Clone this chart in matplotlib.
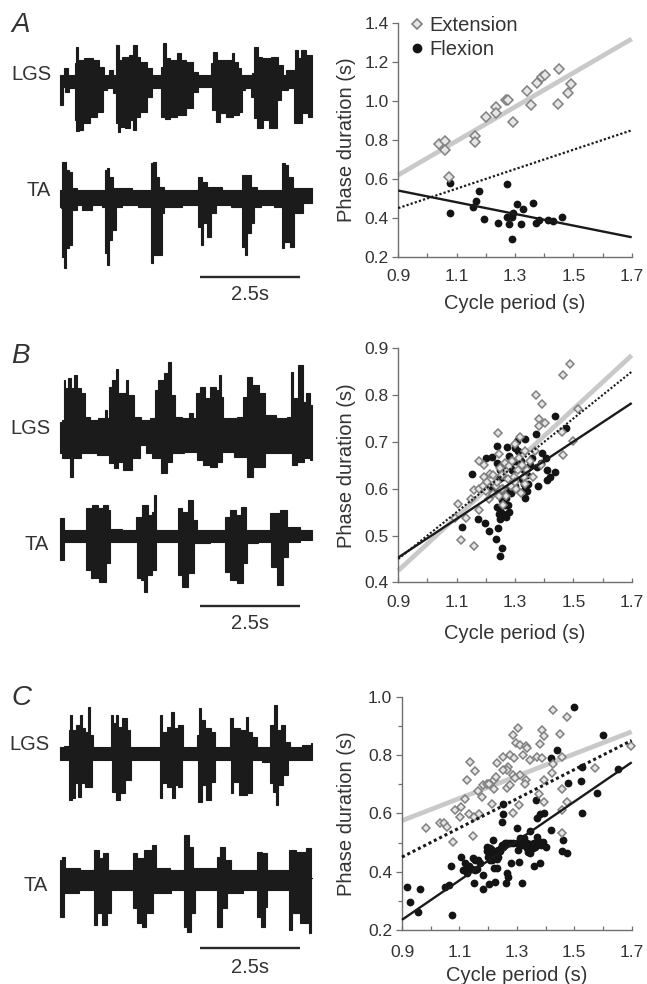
import matplotlib
matplotlib.use("Agg")
import matplotlib.pyplot as plt
from matplotlib.lines import Line2D
from matplotlib.ticker import FixedLocator

plt.rcParams['font.family'] = ['Liberation Sans', 'DejaVu Sans']

TEXT = '#333333'
AXIS = '#707070'

# ---------- EMG envelopes (sample index, level) ----------
A_LGS_top = [(180,225),(190,225),(192,205),(202,205),(205,225),(222,225),(226,190),(228,140),(234,140),(236,180),(270,175),(290,180),(305,200),(318,225),(326,225),(330,210),(336,210),(340,230),(346,225),(348,135),(356,135),(358,180),(372,170),(380,170),(395,165),(403,135),(410,135),(412,170),(430,185),(450,205),(465,225),(480,225),(488,200),(490,130),(497,130),(499,175),(520,180),(540,160),(545,180),(570,185),(590,215),(600,225),(630,225),(638,190),(642,155),(650,155),(652,180),(690,180),(700,160),(706,185),(720,205),(728,225),(755,225),(760,220),(765,140),(772,140),(775,170),(800,175),(825,170),(845,195),(855,225),(862,210),(878,210),(884,225),(885,150),(892,150),(895,175),(910,150),(916,150),(920,165),(935,165),(935,240)]
A_LGS_bot = [(180,260),(182,315),(188,315),(190,260),(200,275),(215,265),(222,265),(226,360),(232,392),(240,390),(260,370),(280,350),(300,335),(316,270),(325,265),(335,265),(345,280),(350,370),(358,395),(365,380),(385,385),(395,360),(405,390),(410,350),(430,335),(450,290),(465,265),(480,265),(488,350),(500,358),(520,350),(545,345),(570,325),(590,275),(600,260),(630,260),(640,330),(655,365),(665,340),(690,350),(710,345),(725,335),(728,270),(745,265),(760,290),(765,355),(780,385),(800,360),(815,385),(830,385),(835,300),(850,270),(880,265),(883,370),(900,370),(915,340),(935,350),(935,240)]
A_TA_top = [(180,570),(184,570),(187,485),(195,485),(200,510),(215,515),(220,565),(240,570),(300,570),(312,570),(316,510),(325,505),(330,530),(350,565),(440,570),(450,570),(455,490),(465,485),(470,530),(485,560),(500,570),(590,570),(598,530),(605,530),(610,545),(635,560),(700,570),(725,570),(728,525),(745,525),(760,560),(780,570),(840,570),(850,490),(858,495),(870,530),(890,565),(935,565),(935,593)]
A_TA_bot = [(180,620),(185,625),(188,770),(195,805),(202,745),(215,735),(220,630),(245,615),(250,630),(300,615),(315,620),(318,760),(322,795),(330,720),(345,690),(350,620),(380,615),(450,620),(455,790),(465,765),(483,765),(487,640),(500,620),(590,615),(600,680),(605,735),(612,670),(630,710),(635,640),(660,615),(725,620),(730,740),(738,765),(745,700),(760,670),(765,620),(800,615),(845,620),(847,745),(860,725),(880,740),(885,640),(935,610),(935,593)]

B_LGS_top = [(180,275),(190,270),(192,150),(200,175),(210,145),(218,175),(228,135),(235,175),(250,190),(262,260),(280,270),(310,265),(318,240),(325,265),(330,170),(345,150),(352,118),(358,190),(375,190),(380,150),(388,195),(400,195),(405,260),(440,270),(462,265),(466,180),(485,150),(500,130),(510,95),(518,195),(530,260),(560,265),(572,250),(585,265),(592,190),(610,170),(620,205),(640,170),(655,180),(660,135),(668,200),(672,265),(700,265),(720,260),(738,200),(742,140),(770,165),(785,190),(805,255),(850,265),(870,260),(875,125),(882,205),(905,105),(913,215),(925,190),(935,225),(935,310)]
B_LGS_bot = [(180,370),(190,385),(205,385),(215,440),(225,385),(260,370),(320,375),(335,400),(350,415),(360,395),(380,420),(410,385),(430,345),(445,370),(470,385),(495,430),(505,395),(525,370),(580,365),(600,390),(620,405),(640,410),(660,395),(675,365),(730,380),(755,440),(765,410),(785,410),(805,370),(870,370),(880,405),(900,395),(925,385),(935,390),(935,310)]
B_TA_top = [(180,600),(183,565),(190,565),(192,600),(255,600),(262,535),(290,525),(300,535),(320,525),(328,540),(335,598),(400,600),(415,560),(440,525),(450,555),(462,545),(465,495),(470,600),(530,600),(540,535),(555,545),(575,510),(585,570),(595,600),(670,600),(680,560),(700,540),(715,555),(730,530),(745,600),(800,600),(820,550),(860,540),(865,590),(935,600),(935,615)]
B_TA_bot = [(180,630),(183,690),(190,690),(192,635),(255,635),(262,720),(285,745),(310,755),(325,700),(335,635),(405,635),(415,745),(430,750),(437,785),(445,735),(465,720),(470,635),(530,635),(540,735),(555,770),(575,730),(590,640),(670,635),(680,725),(700,750),(720,760),(740,700),(745,640),(805,635),(820,710),(840,765),(860,680),(868,635),(935,630),(935,615)]

C_LGS_top = [(180,260),(205,258),(210,210),(213,165),(217,210),(238,195),(243,165),(248,205),(262,215),(267,140),(272,225),(285,260),(330,260),(335,165),(345,190),(352,165),(358,200),(375,175),(385,210),(398,260),(475,260),(485,165),(490,215),(510,200),(518,155),(525,205),(545,195),(555,260),(590,260),(595,225),(602,145),(607,180),(625,205),(640,215),(650,260),(688,260),(695,175),(705,205),(735,210),(742,170),(748,215),(765,230),(775,260),(805,260),(815,195),(828,135),(835,210),(850,195),(860,245),(880,260),(930,255),(935,248),(935,280)]
C_LGS_bot = [(180,300),(205,300),(212,420),(218,380),(222,415),(230,370),(240,410),(245,370),(265,380),(285,300),(330,300),(340,395),(355,420),(365,400),(385,360),(400,300),(475,300),(483,415),(490,370),(510,380),(520,415),(530,375),(540,380),(555,300),(590,300),(600,425),(610,375),(625,420),(640,365),(650,300),(690,300),(695,400),(705,365),(730,405),(750,400),(765,300),(805,305),(815,370),(825,395),(830,435),(838,375),(860,345),(868,300),(935,300),(935,280)]
C_TA_top = [(180,600),(190,590),(200,625),(280,630),(287,570),(295,570),(300,595),(320,580),(330,630),(395,630),(402,580),(420,595),(445,570),(465,555),(473,625),(550,630),(557,525),(575,560),(585,625),(650,625),(655,590),(668,560),(685,600),(700,630),(770,630),(775,575),(800,580),(805,630),(865,630),(872,570),(905,575),(930,565),(935,655)]
C_TA_bot = [(180,690),(183,770),(190,770),(195,700),(280,690),(285,795),(300,760),(315,795),(330,760),(335,690),(395,690),(405,745),(420,790),(430,800),(445,760),(475,700),(550,690),(555,800),(565,815),(580,760),(590,690),(650,690),(655,800),(675,745),(690,700),(770,690),(775,770),(790,800),(800,740),(805,690),(865,690),(872,810),(880,760),(920,790),(932,820),(935,655)]

# ---------- scatter data (cycle period, phase duration) ----------
A_ext = [(1.039,.781),(1.061,.797),(1.061,.749),(1.075,.611),(1.163,.821),(1.163,.791),(1.199,.918),(1.234,.971),(1.234,.941),(1.269,1.006),(1.276,1.006),(1.294,.894),(1.341,1.054),(1.354,.982),(1.377,1.095),(1.391,1.122),(1.404,1.134),(1.447,.985),(1.452,1.163),(1.482,1.043),(1.492,1.088)]
A_flx = [(1.077,.577),(1.077,.426),(1.157,.457),(1.165,.488),(1.177,.536),(1.195,.395),(1.242,.375),(1.273,.572),(1.271,.402),(1.278,.368),(1.291,.289),(1.291,.406),(1.292,.423),(1.308,.471),(1.321,.368),(1.329,.447),(1.362,.474),(1.371,.375),(1.382,.389),(1.414,.389),(1.431,.385),(1.461,.406)]

B_ext = [(1.242,.718),(1.463,.842),(1.489,.866),(1.371,.800),(1.391,.782),(1.382,.748),(1.403,.741),(1.382,.733),(1.460,.722),(1.517,.770),(1.498,.701),(1.466,.672),(1.317,.710),(1.114,.490),(1.161,.478),(1.105,.567),(1.094,.537),(1.131,.537),(1.177,.554),(1.178,.660),(1.195,.651),
 (1.15,.578),(1.16,.597),(1.175,.60),(1.19,.605),(1.20,.595),(1.195,.625),(1.215,.632),(1.205,.615),(1.21,.578),(1.225,.588),(1.235,.605),(1.24,.615),(1.245,.675),(1.25,.645),(1.255,.63),(1.26,.60),(1.265,.655),(1.27,.585),(1.275,.62),(1.28,.648),(1.285,.605),(1.29,.66),(1.295,.625),(1.30,.695),(1.305,.60),(1.31,.64),(1.315,.665),(1.32,.59),(1.325,.65),(1.33,.625),(1.335,.68),(1.34,.64),(1.35,.66),(1.36,.625),(1.37,.68),(1.39,.65),(1.26,.565),(1.245,.585),(1.30,.615),(1.335,.61),(1.225,.63),(1.255,.60)]
B_flx = [(1.119,.519),(1.153,.632),(1.174,.535),(1.197,.527),(1.211,.510),(1.243,.516),(1.235,.492),(1.254,.473),(1.249,.456),(1.437,.755),(1.474,.729),(1.371,.717),(1.378,.606),(1.437,.636),(1.409,.619),(1.42,.626),(1.409,.640),(1.406,.665),(1.391,.676),(1.374,.647),(1.357,.665),(1.334,.706),(1.306,.701),(1.30,.686),(1.271,.69),(1.237,.692),(1.22,.667),(1.2,.665),(1.24,.654),
 (1.24,.56),(1.245,.545),(1.25,.555),(1.26,.545),(1.27,.54),(1.265,.565),(1.275,.565),(1.255,.575),(1.27,.58),(1.285,.59),(1.26,.59),(1.24,.59),(1.335,.58),(1.335,.60),(1.33,.61),(1.325,.62),(1.34,.63),(1.33,.64),(1.32,.66),(1.28,.67),(1.29,.64),(1.26,.65),(1.245,.62),(1.26,.625),(1.30,.605),(1.22,.60),
 (1.25,.535),(1.28,.55),(1.27,.60),(1.34,.595),(1.345,.61),(1.35,.65),(1.30,.66),(1.31,.68),(1.39,.655),(1.25,.64)]

C_ext = [(.984,.549),(1.032,.566),(1.046,.566),(1.058,.554),(1.079,.503),(1.085,.611),(1.104,.621),(1.102,.589),(1.119,.648),(1.125,.714),(1.137,.777),(1.154,.745),(1.135,.598),(1.148,.522),(1.152,.586),(1.169,.598),(1.166,.678),(1.180,.655),(1.181,.697),(1.195,.701),(1.212,.632),(1.204,.701),(1.220,.714),(1.227,.723),(1.220,.682),(1.232,.772),(1.253,.792),(1.267,.686),(1.276,.697),(1.270,.760),(1.265,.749),(1.276,.800),(1.290,.789),(1.285,.869),(1.303,.892),(1.297,.840),(1.311,.834),(1.311,.731),(1.332,.831),(1.334,.823),(1.320,.800),(1.346,.783),(1.332,.714),(1.328,.701),(1.288,.602),(1.309,.629),(1.371,.794),(1.389,.789),(1.381,.838),(1.388,.886),(1.395,.865),(1.395,.714),(1.421,.737),(1.425,.769),(1.427,.954),(1.450,.871),(1.474,.932),(1.456,.792),(1.378,.666),(1.395,.640),(1.456,.611),(1.474,.640),(1.456,.682),(1.456,.534),(1.572,.757),(1.698,.831),(1.253,.749),(1.288,.731),(1.294,.720)]
C_flx = [(.916,.346),(.928,.295),(.963,.341),(.955,.261),(1.075,.251),(1.071,.419),(1.05,.349),(1.065,.354),(1.104,.449),(1.114,.406),(1.119,.429),(1.131,.408),(1.148,.446),(1.166,.44),(1.154,.406),(1.151,.362),(1.181,.339),(1.183,.389),(1.203,.358),(1.224,.366),(1.195,.486),(1.218,.509),(1.201,.451),(1.212,.44),(1.224,.463),(1.236,.474),(1.253,.486),(1.22,.411),(1.23,.411),(1.265,.499),(1.288,.497),(1.30,.549),(1.305,.474),(1.28,.429),(1.308,.432),(1.265,.394),(1.261,.36),(1.268,.383),(1.317,.36),(1.253,.632),(1.253,.598),(1.247,.569),(1.369,.583),(1.381,.598),(1.395,.602),(1.367,.646),(1.419,.543),(1.311,.514),(1.323,.503),(1.334,.497),(1.346,.541),(1.34,.469),(1.346,.463),(1.36,.419),(1.381,.431),(1.369,.52),(1.381,.503),(1.392,.503),(1.402,.486),(1.363,.486),(1.462,.509),(1.456,.472),(1.474,.463),(1.419,.789),(1.439,.817),(1.499,.963),(1.601,.869),(1.653,.751),(1.526,.76),(1.522,.711),(1.479,.705),(1.58,.671),(1.528,.6),(1.21,.46),(1.225,.455),(1.24,.47),(1.23,.445),(1.215,.475),(1.205,.44),(1.25,.49),(1.32,.49),(1.30,.50),(1.35,.495),(1.36,.50),
 (1.195,.47),(1.205,.48),(1.22,.45),(1.235,.45),(1.245,.48),(1.26,.50),(1.275,.50),(1.31,.49),(1.325,.515),(1.335,.48),(1.345,.49),(1.355,.48),(1.37,.49),(1.385,.49),(1.135,.42),(1.145,.41),(1.16,.41),(1.125,.395),(1.17,.43),(1.155,.44)]

# regression end values at x = 0.9 and x = 1.7
line_x = [0.9, 1.7]
A_fit = dict(ext=[.62, 1.32], ref=[.45, .85], flx=[.54, .30])
B_fit = dict(ext=[.425, .885], ref=[.45, .85], flx=[.453, .783])
C_fit = dict(ext=[.575, .88], ref=[.45, .85], flx=[.235, .775])

x_major = [0.9, 1.1, 1.3, 1.5, 1.7]
x_minor = [1.0, 1.2, 1.4, 1.6]
A_yticks = [.2, .4, .6, .8, 1.0, 1.2, 1.4]
B_yticks = [.4, .5, .6, .7, .8, .9]
C_yticks = [.2, .4, .6, .8, 1.0]
C_yminor = [.3, .5, .7, .9]

W, H = 647, 984
fig = plt.figure(figsize=(W/100, H/100), dpi=100, facecolor='white')

def px_axes(x0, y0, x1, y1):
    """Axes from pixel box (top-left origin)."""
    return fig.add_axes([x0/W, 1-y1/H, (x1-x0)/W, (y1-y0)/H])

def stairs(pts):
    """Change level halfway between neighbouring samples, like a blocky rectified record."""
    xs, ys = [], []
    for i, (x, y) in enumerate(pts):
        left = pts[i - 1][0] if i else x
        right = pts[i + 1][0] if i + 1 < len(pts) else x
        xs += [(left + x) / 2, (x + right) / 2]
        ys += [y, y]
    return xs, ys

def unzip(pts):
    return [p[0] for p in pts], [p[1] for p in pts]

def trace_panel(box, ymax, traces, letter, letter_y, labels, bar_y, bar_txt_y):
    ax = px_axes(*box)
    ax.set_xlim(0, 990); ax.set_ylim(ymax, 0); ax.axis('off'); ax.patch.set_alpha(0)
    for top, bot in traces:
        xt, yt = stairs(top); xb, yb = stairs(bot)
        ax.fill(xt + xb[::-1], yt + yb[::-1], color='#1b1b1b', lw=0.8)
    ax.text(34, letter_y, letter, fontsize=20, style='italic', color=TEXT, ha='left', va='center')
    for txt, x, y in labels:
        ax.text(x, y, txt, fontsize=14.5, color=TEXT, ha='center', va='center')
    ax.plot([600, 900], [bar_y, bar_y], color='#2a2a2a', lw=1.7, solid_capstyle='butt')
    ax.text(750, bar_txt_y, '2.5s', fontsize=14.5, color=TEXT, ha='center', va='center')

trace_panel((0, 0, 330, 300), 900, [(A_LGS_top, A_LGS_bot), (A_TA_top, A_TA_bot)], 'A', 75,
            [('LGS', 95, 222), ('TA', 115, 570)], 832, 885)
trace_panel((0, 330, 330, 640), 930, [(B_LGS_top, B_LGS_bot), (B_TA_top, B_TA_bot)], 'B', 78,
            [('LGS', 90, 297), ('TA', 110, 645)], 827, 880)
trace_panel((0, 660, 330, 980), 960, [(C_LGS_top, C_LGS_bot), (C_TA_top, C_TA_bot)], 'C', 115,
            [('LGS', 88, 253), ('TA', 108, 677)], 865, 922)

def scatter_panel(box, ylim, yticks, ext, flx, fit, xpad, xlabelpad, ylabelpad,
                  dia, dot_lw, yminor=None):
    ax = px_axes(*box)
    ax.set_xlim(0.9, 1.7); ax.set_ylim(*ylim)
    ax.patch.set_alpha(0)
    for s in ('top', 'right'):
        ax.spines[s].set_visible(False)
    for s in ('left', 'bottom'):
        ax.spines[s].set_color(AXIS); ax.spines[s].set_linewidth(1.0)
    ax.plot(line_x, fit['ext'], color='#c9c9c9', lw=3.4, zorder=1, solid_capstyle='butt', clip_on=False)
    fx, fy = unzip(flx); ex, ey = unzip(ext)
    ax.plot(fx, fy, 'o', color='#141414', ms=5.6, mew=0, zorder=2, clip_on=False)
    ax.plot(ex, ey, 'D', mfc='#e6e6e6', mec='#808080', ms=dia, mew=1.1, zorder=3, clip_on=False)
    ax.plot(line_x, fit['ref'], color='#1a1a1a', lw=dot_lw, ls=(0, (1.0, 0.95)), zorder=4, clip_on=False)
    ax.plot(line_x, fit['flx'], color='#1a1a1a', lw=1.7, zorder=5, solid_capstyle='butt', clip_on=False)
    ax.xaxis.set_major_locator(FixedLocator(x_major))
    ax.xaxis.set_minor_locator(FixedLocator(x_minor))
    ax.set_xticklabels([f'{v:.1f}' for v in x_major])
    ax.yaxis.set_major_locator(FixedLocator(yticks))
    ax.set_yticklabels([f'{v:.1f}' for v in yticks])
    if yminor:
        ax.yaxis.set_minor_locator(FixedLocator(yminor))
    ax.tick_params(axis='x', which='both', direction='in', length=3, width=0.9, color=AXIS,
                   labelsize=12.5, labelcolor=TEXT, pad=xpad)
    ax.tick_params(axis='y', which='major', direction='out', length=4, width=0.9, color=AXIS,
                   labelsize=12.5, labelcolor=TEXT, pad=3)
    ax.tick_params(axis='y', which='minor', direction='out', length=3, width=0.9, color=AXIS)
    ax.set_xlabel('Cycle period (s)', fontsize=14.5, color=TEXT, labelpad=xlabelpad)
    ax.set_ylabel('Phase duration (s)', fontsize=14.5, color=TEXT, labelpad=ylabelpad)
    return ax

axA = scatter_panel((398.3, 23.3, 631.7, 256.7), (.2, 1.4), A_yticks, A_ext, A_flx, A_fit, 9, 7, 6, 4.6, 1.6)
axB = scatter_panel((398.3, 348.3, 631.7, 582.3), (.4, .9), B_yticks, B_ext, B_flx, B_fit, 9, 10, 6, 3.8, 1.5)
axC = scatter_panel((402, 696.7, 631.7, 930), (.2, 1.0), C_yticks, C_ext, C_flx, C_fit, 11, 4, 9, 3.9, 2.2, C_yminor)

handles = [Line2D([], [], ls='none', marker='D', mfc='#e6e6e6', mec='#808080', ms=5.4, mew=1.2, label='Extension'),
           Line2D([], [], ls='none', marker='o', color='#141414', ms=7, mew=0, label='Flexion')]
leg = axA.legend(handles=handles, loc='upper left', bbox_to_anchor=(0.04, 1.03), frameon=False,
                 fontsize=14.5, labelspacing=0.22, handlelength=0.9, handletextpad=0.2,
                 borderpad=0, borderaxespad=0)
for t in leg.get_texts():
    t.set_color(TEXT)

fig.savefig('out.png', dpi=100)
